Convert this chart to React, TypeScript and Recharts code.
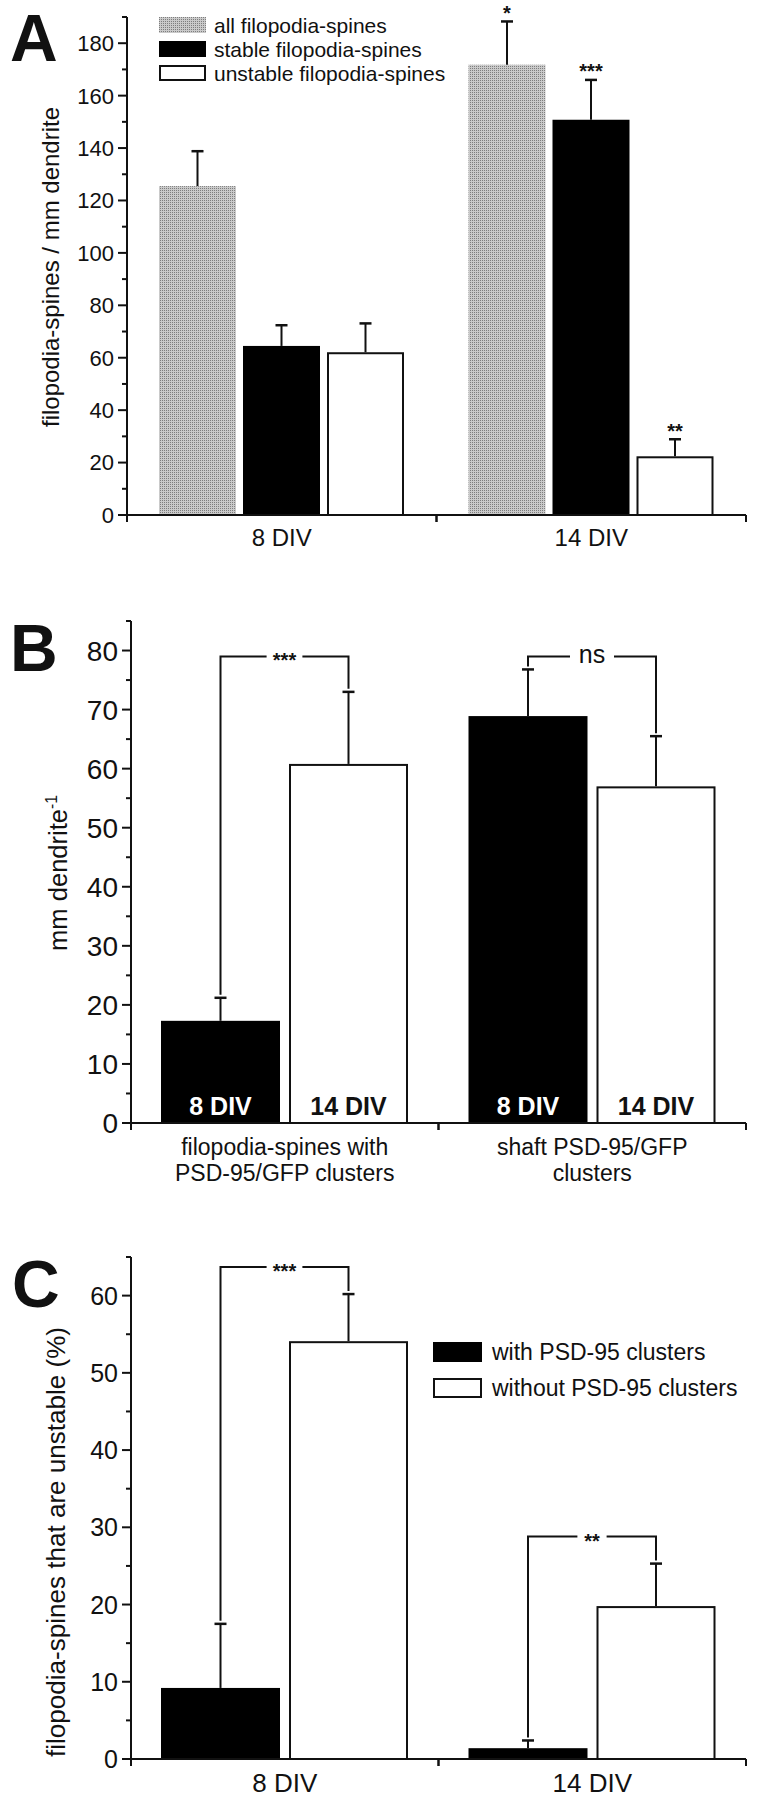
import React from "react";
import { BarChart, Bar, XAxis, YAxis, Legend } from "recharts";

const FONT = '"Liberation Sans", Arial, Helvetica, sans-serif';
const INK = "#111";
const GRAY = "url(#stipple)";

// ---- A: filopodia-spines per mm dendrite
const aDays = ["8 DIV", "14 DIV"];
const aAll = [125.5, 171.8];
const aAllErr = [13.3, 16.5];
const aStable = [64.5, 150.8];
const aStableErr = [7.9, 15.2];
const aUnstable = [62.1, 22.4];
const aUnstableErr = [11.0, 6.5];
const aAllSig = ["", "*"];
const aStableSig = ["", "***"];
const aUnstableSig = ["", "**"];
const aTicks = [0, 10, 20, 30, 40, 50, 60, 70, 80, 90, 100, 110, 120, 130, 140, 150, 160, 170, 180, 190];

// ---- B: mm dendrite^-1
const bGroups = [
  ["filopodia-spines with", "PSD-95/GFP clusters"],
  ["shaft PSD-95/GFP", "clusters"],
];
const bSeries = ["8 DIV", "14 DIV"];
const b8 = [17.3, 68.9];
const b8Err = [3.9, 7.9];
const b14 = [60.8, 57.0];
const b14Err = [12.2, 8.5];
const bBracket = [79, 79];
const bSig = ["***", "ns"];
const bTicks = [0, 5, 10, 15, 20, 25, 30, 35, 40, 45, 50, 55, 60, 65, 70, 75, 80, 85];

// ---- C: % unstable
const cDays = ["8 DIV", "14 DIV"];
const cWith = [9.2, 1.4];
const cWithErr = [8.3, 1.0];
const cWithout = [54.1, 19.8];
const cWithoutErr = [6.1, 5.5];
const cBracket = [63.7, 28.8];
const cSig = ["***", "**"];
const cTicks = [0, 5, 10, 15, 20, 25, 30, 35, 40, 45, 50, 55, 60, 65];

const dataA = aDays.map((d, i) => ({
  day: d,
  all: aAll[i], allErr: aAllErr[i], allSig: aAllSig[i],
  stable: aStable[i], stableErr: aStableErr[i], stableSig: aStableSig[i],
  unstable: aUnstable[i], unstableErr: aUnstableErr[i], unstableSig: aUnstableSig[i],
}));

const dataB = bGroups.map((g, i) => ({
  group: g.join("\n"),
  d8: b8[i], d8Err: b8Err[i],
  d14: b14[i], d14Err: b14Err[i],
  bracket: bBracket[i], sig: bSig[i],
}));

const dataC = cDays.map((d, i) => ({
  day: d,
  w: cWith[i], wErr: cWithErr[i],
  wo: cWithout[i], woErr: cWithoutErr[i],
  bracket: cBracket[i], sig: cSig[i],
}));

const W = 758;
const RIGHT = 12;

// bar + upward error bar (+ optional stars, inner label, significance bracket)
function barShape(o: any) {
  return (p: any) => {
    const { x, y, width, height, payload } = p;
    const v = payload[o.valKey];
    const k = v ? height / v : 0;
    const base = y + height;
    const cx = x + width / 2;
    const capY = y - payload[o.errKey] * k;
    const sig = o.sigKey ? payload[o.sigKey] : "";
    let bracket = null;
    if (o.bracket) {
      const b = o.bracket;
      const lx = cx - width - b.gap;
      const yb = base - payload.bracket * k;
      const lBottom = base - (payload[b.leftVal] + payload[b.leftErr]) * k - 3;
      const rBottom = capY - 3;
      const mid = (lx + cx) / 2;
      const s = payload.sig;
      const stars = /^\*+$/.test(s);
      const half = stars ? 8 + 3.3 * s.length : 22;
      bracket = (
        <g>
          <path
            d={`M${lx},${lBottom}V${yb}H${mid - half}M${mid + half},${yb}H${cx}V${rBottom}`}
            fill="none" stroke={INK} strokeWidth={2}
          />
          <text x={mid} y={yb + (stars ? 11 : 7)} textAnchor="middle" fontFamily={FONT}
            fontSize={stars ? 20 : 25} fontWeight={stars ? 700 : 400} fill={INK}>{s}</text>
        </g>
      );
    }
    return (
      <g>
        {o.outline ? (
          <rect x={x + 1} y={y + 1} width={width - 2} height={height - 1} fill="#fff" stroke={INK} strokeWidth={2} />
        ) : (
          <rect x={x} y={y} width={width} height={height} fill={o.fill} />
        )}
        <line x1={cx} x2={cx} y1={y} y2={capY} stroke={INK} strokeWidth={2} />
        <line x1={cx - 6} x2={cx + 6} y1={capY} y2={capY} stroke={INK} strokeWidth={2.5} />
        {sig ? (
          <text x={cx} y={capY - 1.5} textAnchor="middle" fontFamily={FONT} fontSize={20} fontWeight={700} fill={INK}>{sig}</text>
        ) : null}
        {o.inner ? (
          <text x={cx} y={base - 17} dy="0.36em" textAnchor="middle" fontFamily={FONT} fontSize={25}
            fontWeight={700} fill={o.inner.color}>{o.inner.text}</text>
        ) : null}
        {bracket}
      </g>
    );
  };
}

function YTick(props: any) {
  const { x, y, payload, major, fontSize } = props;
  const v = payload.value;
  const isMajor = v % major === 0;
  return (
    <g>
      <line x1={x - (isMajor ? 9 : 5)} x2={x} y1={y} y2={y} stroke={INK} strokeWidth={2} />
      {isMajor ? (
        <text x={x - 13} y={y} dy="0.36em" textAnchor="end" fontFamily={FONT} fontSize={fontSize} fill={INK}>{v}</text>
      ) : null}
    </g>
  );
}

function CatTick(props: any) {
  const { x, y, payload, bandW, fontSize, firstDy, lineGap } = props;
  const lines = String(payload.value).split("\n");
  return (
    <g>
      <line x1={x - bandW / 2} x2={x - bandW / 2} y1={y} y2={y + 7} stroke={INK} strokeWidth={2} />
      <line x1={x + bandW / 2} x2={x + bandW / 2} y1={y} y2={y + 7} stroke={INK} strokeWidth={2} />
      <text x={x} y={y + firstDy} textAnchor="middle" fontFamily={FONT} fontSize={fontSize} fill={INK}>
        {lines.map((l, i) => (
          <tspan key={i} x={x} dy={i === 0 ? 0 : lineGap}>{l}</tspan>
        ))}
      </text>
    </g>
  );
}

function AxisTitle(props: any) {
  const { cx0, cy0, fontSize, title, sup, span } = props;
  return (
    <text x={cx0} y={cy0} dy="0.35em" transform={`rotate(-90 ${cx0} ${cy0})`} textAnchor="middle"
      fontFamily={FONT} fontSize={fontSize} fill={INK}>
      <tspan textLength={span} lengthAdjust="spacingAndGlyphs">{title}</tspan>
      {sup ? <tspan dy={-10} fontSize={fontSize * 0.6}>{sup}</tspan> : null}
    </text>
  );
}

function LegendRows(props: any) {
  const { payload, fills, sw, sh, gap, rowH, fontSize } = props;
  return (
    <div style={{ fontFamily: FONT, fontSize, color: INK, lineHeight: 1 }}>
      {(payload || []).map((item: any, i: number) => {
        const f = item.color || fills[i];
        const white = f === "#fff";
        return (
          <div key={item.value} style={{ display: "flex", alignItems: "center", height: rowH, whiteSpace: "nowrap" }}>
            <svg width={sw} height={sh} style={{ marginRight: gap, flex: "none" }}>
              {white ? (
                <rect x={1} y={1} width={sw - 2} height={sh - 2} fill="#fff" stroke={INK} strokeWidth={2} />
              ) : (
                <rect x={0} y={0} width={sw} height={sh} fill={f} />
              )}
            </svg>
            <span>{item.value}</span>
          </div>
        );
      })}
    </div>
  );
}

const axisLine = { stroke: INK, strokeWidth: 2 };

function PanelA() {
  const left = 127;
  const bandW = (W - RIGHT - left) / aDays.length;
  return (
    <BarChart width={W} height={560} data={dataA} margin={{ top: 17, right: RIGHT, bottom: 0, left: 0 }}
      barCategoryGap={32} barGap={7}>
      <XAxis dataKey="day" height={45} tickSize={0} tickMargin={0} tickLine={false} axisLine={axisLine}
        interval={0} tick={<CatTick bandW={bandW} fontSize={24} firstDy={31} lineGap={0} />} />
      <YAxis type="number" domain={[0, 190]} ticks={aTicks} interval={0} width={left} tickSize={0}
        tickMargin={0} tickLine={false} axisLine={axisLine} tick={<YTick major={20} fontSize={22} />}
        label={<AxisTitle cx0={51} cy0={267} fontSize={24} span={320} title="filopodia-spines / mm dendrite" />} />
      <Legend layout="vertical" align="center" verticalAlign="middle"
        wrapperStyle={{ position: "absolute", left: 159, top: 13, width: "auto", height: "auto" }}
        content={<LegendRows fills={[GRAY, "#000", "#fff"]} sw={47} sh={16} gap={8} rowH={24} fontSize={21} />} />
      <Bar dataKey="all" name="all filopodia-spines" fill={GRAY} isAnimationActive={false} legendType="rect"
        shape={barShape({ valKey: "all", errKey: "allErr", fill: GRAY, sigKey: "allSig" })} />
      <Bar dataKey="stable" name="stable filopodia-spines" fill="#000" isAnimationActive={false} legendType="rect"
        shape={barShape({ valKey: "stable", errKey: "stableErr", fill: "#000", sigKey: "stableSig" })} />
      <Bar dataKey="unstable" name="unstable filopodia-spines" fill="#fff" isAnimationActive={false} legendType="rect"
        shape={barShape({ valKey: "unstable", errKey: "unstableErr", outline: true, sigKey: "unstableSig" })} />
    </BarChart>
  );
}

function PanelB() {
  const left = 131;
  const bandW = (W - RIGHT - left) / bGroups.length;
  const gap = 9;
  return (
    <BarChart width={W} height={600} data={dataB} margin={{ top: 21, right: RIGHT, bottom: 0, left: 0 }}
      barCategoryGap={30} barGap={gap}>
      <XAxis dataKey="group" height={77} tickSize={0} tickMargin={0} tickLine={false} axisLine={axisLine}
        interval={0} tick={<CatTick bandW={bandW} fontSize={23} firstDy={32} lineGap={26} />} />
      <YAxis type="number" domain={[0, 85]} ticks={bTicks} interval={0} width={left} tickSize={0}
        tickMargin={0} tickLine={false} axisLine={axisLine} tick={<YTick major={10} fontSize={28} />}
        label={<AxisTitle cx0={58} cy0={273} fontSize={26} span={142} title="mm dendrite" sup="-1" />} />
      <Bar dataKey="d8" name={bSeries[0]} fill="#000" isAnimationActive={false}
        shape={barShape({ valKey: "d8", errKey: "d8Err", fill: "#000", inner: { text: bSeries[0], color: "#fff" } })} />
      <Bar dataKey="d14" name={bSeries[1]} fill="#fff" isAnimationActive={false}
        shape={barShape({
          valKey: "d14", errKey: "d14Err", outline: true, inner: { text: bSeries[1], color: INK },
          bracket: { leftVal: "d8", leftErr: "d8Err", gap },
        })} />
    </BarChart>
  );
}

function PanelC() {
  const left = 131;
  const bandW = (W - RIGHT - left) / cDays.length;
  const gap = 9;
  return (
    <BarChart width={W} height={560} data={dataC} margin={{ top: 17, right: RIGHT, bottom: 0, left: 0 }}
      barCategoryGap={30} barGap={gap}>
      <XAxis dataKey="day" height={41} tickSize={0} tickMargin={0} tickLine={false} axisLine={axisLine}
        interval={0} tick={<CatTick bandW={bandW} fontSize={26} firstDy={33} lineGap={0} />} />
      <YAxis type="number" domain={[0, 65]} ticks={cTicks} interval={0} width={left} tickSize={0}
        tickMargin={0} tickLine={false} axisLine={axisLine} tick={<YTick major={10} fontSize={25} />}
        label={<AxisTitle cx0={56} cy0={302} fontSize={26} span={430} title="filopodia-spines that are unstable (%)" />} />
      <Legend layout="vertical" align="center" verticalAlign="middle"
        wrapperStyle={{ position: "absolute", left: 433, top: 94, width: "auto", height: "auto" }}
        content={<LegendRows fills={["#000", "#fff"]} sw={49} sh={20} gap={10} rowH={36} fontSize={23} />} />
      <Bar dataKey="w" name="with PSD-95 clusters" fill="#000" isAnimationActive={false} legendType="rect"
        shape={barShape({ valKey: "w", errKey: "wErr", fill: "#000" })} />
      <Bar dataKey="wo" name="without PSD-95 clusters" fill="#fff" isAnimationActive={false} legendType="rect"
        shape={barShape({
          valKey: "wo", errKey: "woErr", outline: true,
          bracket: { leftVal: "w", leftErr: "wErr", gap },
        })} />
    </BarChart>
  );
}

export default function App() {
  return (
    <div style={{ position: "absolute", left: 0, top: 0, width: W, height: 1800, background: "#fff" }}>
      <svg width={0} height={0} style={{ position: "absolute" }}>
        <defs>
          <pattern id="stipple" width={2} height={2} patternUnits="userSpaceOnUse">
            <rect width={2} height={2} fill="#cacaca" />
            <rect width={1} height={1} fill="#7e7e7e" />
          </pattern>
        </defs>
      </svg>
      <div style={{ position: "absolute", left: 0, top: 0 }}>
        <PanelA />
      </div>
      <div style={{ position: "absolute", left: 0, top: 600 }}>
        <PanelB />
      </div>
      <div style={{ position: "absolute", left: 0, top: 1240 }}>
        <PanelC />
      </div>
      <svg width={W} height={1800} style={{ position: "absolute", left: 0, top: 0, pointerEvents: "none" }}>
        <g fontFamily={FONT} fontWeight={700} fontSize={66} fill={INK}>
          <text x={10} y={61}>A</text>
          <text x={10} y={671}>B</text>
          <text x={12} y={1307}>C</text>
        </g>
      </svg>
    </div>
  );
}
